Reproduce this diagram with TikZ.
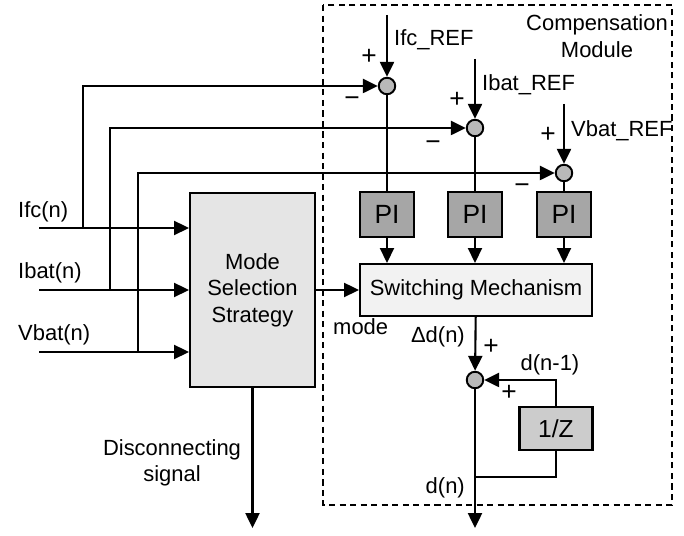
\documentclass[tikz,border=0pt]{standalone}
\usepackage{fontspec}
\setmainfont{Liberation Sans}
\usetikzlibrary{arrows.meta, positioning}

\begin{document}
\begin{tikzpicture}[
    x=0.02cm, y=-0.02cm,
    every node/.style={font=\fontsize{12.5}{15}\selectfont},
    block/.style={rectangle, draw, line width=1.2pt, inner sep=0pt, align=center},
    sumpt/.style={circle, draw, line width=1.1pt, fill=gray!55, minimum size=0.33cm, inner sep=0pt},
    sign/.style={font=\fontsize{15}{15}\selectfont},
    arrow/.style={-{Triangle[length=8.5pt, width=8pt]}, line width=1.2pt},
    wire/.style={line width=1.2pt}
]
\useasboundingbox (0,0) rectangle (684,536);

% compensation module frame
\draw[line width=0.7pt, dash pattern=on 3.5pt off 2.5pt] (323,5) rectangle (672,505);
\node[align=center] (cmlabel) at (597,36) {Compensation\\Module};

% blocks
\node[block, fill=gray!20, minimum width=2.5cm, minimum height=3.88cm] (mss) at (252.5,290) {Mode\\Selection\\Strategy};
\node[block, fill=gray!70, minimum width=1.08cm, minimum height=0.9cm, font=\fontsize{15}{15}\selectfont] (pi1) at (387,214.5) {PI};
\node[block, fill=gray!70, minimum width=1.08cm, minimum height=0.9cm, font=\fontsize{15}{15}\selectfont] (pi2) at (475,214.5) {PI};
\node[block, fill=gray!70, minimum width=1.08cm, minimum height=0.9cm, font=\fontsize{15}{15}\selectfont] (pi3) at (564,214.5) {PI};
\node[block, fill=gray!10, minimum width=4.64cm, minimum height=1.04cm] (sm) at (476,290) {Switching Mechanism};
\node[block, fill=gray!40, minimum width=1.46cm, minimum height=0.86cm, font=\fontsize{14}{15}\selectfont] (dz) at (556,428.5) {1/Z};

% summing points
\node[sumpt] (s1) at (387,86) {};
\node[sumpt] (s2) at (475,128) {};
\node[sumpt] (s3) at (564,173) {};
\node[sumpt] (s4) at (475,380) {};

% free ends
\coordinate (ifcin) at (39,228);
\coordinate (ibatin) at (39,290);
\coordinate (vbatin) at (39,352);
\coordinate (ifcbr) at (83,228);
\coordinate (ibatbr) at (110,290);
\coordinate (vbatbr) at (138,352);
\coordinate (ifcref) at (387,15);
\coordinate (ibatref) at (475,59);
\coordinate (vbatref) at (564,104);
\coordinate (dbr) at (475,477);
\coordinate (dout) at (475,528);
\coordinate (disc) at (252.5,528);

% labels
\node[anchor=west] (lifc) at (12,212) {Ifc(n)};
\node[anchor=west] (libat) at (12,273) {Ibat(n)};
\node[anchor=west] (lvbat) at (12,335) {Vbat(n)};
\node[anchor=west] (lifcref) at (388,40) {Ifc\_REF};
\node[anchor=west] (libatref) at (476,85) {Ibat\_REF};
\node[anchor=west] (lvbatref) at (565,131) {Vbat\_REF};
\node[sign] (p1) at (369,57) {+};
\node[sign] (p2) at (457,100) {+};
\node[sign] (p3) at (548,135) {+};
\node[sign] (m1) at (352,102) {−};
\node[sign] (m2) at (433,146) {−};
\node[sign] (m3) at (522,189) {−};
\node[anchor=west] (lmode) at (327,327) {mode};
\node[anchor=east] (ldelta) at (471,337) {Δd(n)};
\node[sign] (p4) at (491,347) {+};
\node (ldprev) at (550,365) {d(n-1)};
\node[sign] (p5) at (509,393) {+};
\node[anchor=east] (ldn) at (471,488) {d(n)};
\node[align=center] (ldisc) at (172,463) {Disconnecting\\signal};

% inputs
\draw[arrow] (ifcin) -- (ifcin -| mss.west);
\draw[arrow] (ibatin) -- (ibatin -| mss.west);
\draw[arrow] (vbatin) -- (vbatin -| mss.west);
\draw[arrow] (ifcbr) |- (s1);
\draw[arrow] (ibatbr) |- (s2);
\draw[arrow] (vbatbr) |- (s3);

% references
\draw[arrow] (ifcref) -- (s1);
\draw[arrow] (ibatref) -- (s2);
\draw[arrow] (vbatref) -- (s3);

% errors to controllers
\draw[wire] (s1) -- (pi1);
\draw[wire] (s2) -- (pi2);
\draw[wire] (s3) -- (pi3);
\draw[arrow] (pi1) -- (pi1 |- sm.north);
\draw[arrow] (pi2) -- (pi2 |- sm.north);
\draw[arrow] (pi3) -- (pi3 |- sm.north);

% mode and outputs
\draw[arrow] (mss) -- (sm);
\draw[arrow] (mss) -- (disc);
\draw[arrow] (sm) -- (s4);
\draw[arrow] (dz) |- (s4);
\draw[arrow] (s4) -- (dout);
\draw[wire] (dbr) -| (dz);

\end{tikzpicture}
\end{document}
